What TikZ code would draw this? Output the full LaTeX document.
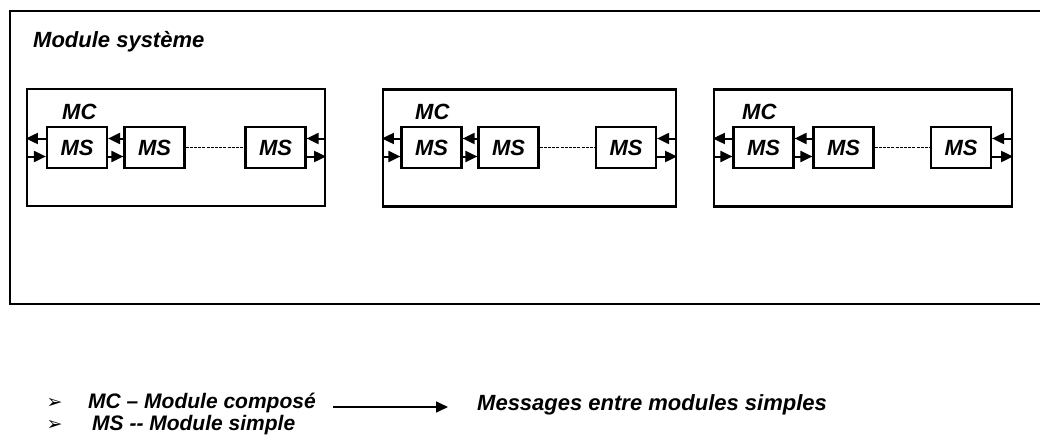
\documentclass[tikz,border=0pt]{standalone}
\usepackage{fontspec}
\setmainfont{Liberation Sans}
\newfontfamily\dejavu{DejaVu Sans}
\usetikzlibrary{arrows.meta}
\tikzset{
  sysbox/.style={draw, line width=2.2pt, minimum width=1045pt, minimum height=293pt, anchor=north west, inner sep=0pt},
  mcbox/.style={draw, line width=2.2pt, minimum height=117pt, inner sep=0pt},
  msbox/.style={draw, line width=2.2pt, minimum width=60pt, minimum height=41pt, inner sep=0pt, font=\fontsize{22}{26}\selectfont\bfseries\itshape},
  lbl/.style={anchor=west, inner sep=0pt, font=\fontsize{22}{26}\selectfont\bfseries\itshape},
  leg/.style={anchor=west, inner sep=0pt, font=\fontsize{21}{25}\selectfont\bfseries\itshape},
  msg/.style={line width=2pt, -{Triangle[length=12pt,width=11pt]}},
  dots/.style={line width=1.1pt, dash pattern=on 3pt off 1.2pt},
}
\begin{document}
\begin{tikzpicture}[x=1pt,y=-1pt]
\useasboundingbox (0,0) rectangle (1040,441);
\node[sysbox] (sys) at (9,10) {};
\node[lbl] (systitle) at (33,42) {Module système};
% MC boxes
\node[mcbox, minimum width=298pt] (mc1) at (176,147.5) {};
\node[mcbox, minimum width=293pt] (mc2) at (529.5,148) {};
\node[mcbox, minimum width=298pt] (mc3) at (863,148) {};
\node[lbl] (mct1) at (62,112) {MC};
\node[lbl] (mct2) at (415,112) {MC};
\node[lbl] (mct3) at (742,112) {MC};
% MS boxes
\foreach \i/\a/\b/\c in {1/77/154.5/275.5, 2/431.5/508.5/626, 3/763.5/843.5/961}{
  \node[msbox] (ms\i a) at (\a,147.5) {MS};
  \node[msbox] (ms\i b) at (\b,147.5) {MS};
  \node[msbox] (ms\i c) at (\c,147.5) {MS};
  \draw[msg] ([yshift=9pt]ms\i a.west) -- ([yshift=9pt]mc\i.west |- ms\i a.west);
  \draw[msg] ([yshift=-9pt]mc\i.west |- ms\i a.west) -- ([yshift=-9pt]ms\i a.west);
  \draw[msg] ([yshift=9pt]ms\i b.west) -- ([yshift=9pt]ms\i a.east);
  \draw[msg] ([yshift=-9pt]ms\i a.east) -- ([yshift=-9pt]ms\i b.west);
  \draw[dots] (ms\i b.east) -- (ms\i c.west);
  \draw[msg] ([yshift=9pt]mc\i.east |- ms\i c.east) -- ([yshift=9pt]ms\i c.east);
  \draw[msg] ([yshift=-9pt]ms\i c.east) -- ([yshift=-9pt]mc\i.east |- ms\i c.east);
}
% legend
\node[anchor=center, inner sep=0pt, font=\dejavu\fontsize{19}{22}\selectfont] (b1) at (54.5,403) {➢};
\node[anchor=center, inner sep=0pt, font=\dejavu\fontsize{19}{22}\selectfont] (b2) at (54.5,425) {➢};
\node[leg] (l1) at (88,403) {MC – Module composé};
\node[leg] (l2) at (92,425) {MS -{}- Module simple};
\coordinate (la) at (333,407);
\coordinate (lb) at (448,407);
\draw[msg, line width=1.6pt] (la) -- (lb);
\node[lbl] (l3) at (477,405) {Messages entre modules simples};
\end{tikzpicture}
\end{document}
